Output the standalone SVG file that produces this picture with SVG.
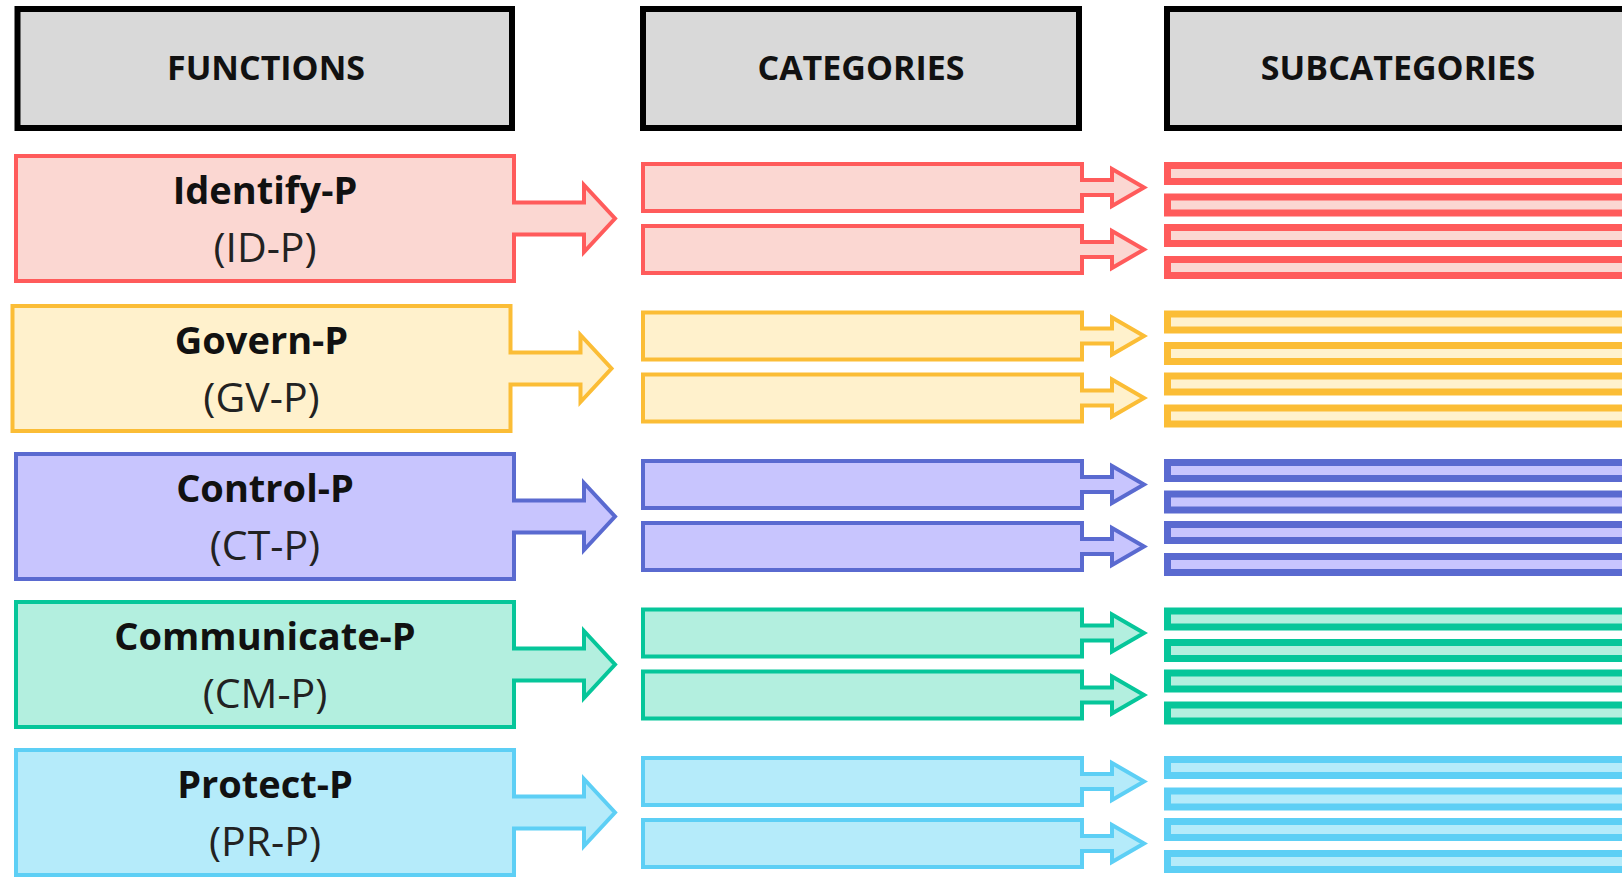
<svg xmlns="http://www.w3.org/2000/svg" width="1622" height="877" viewBox="0 0 1622 877">
<style>
.hdr{fill:#D9D9D9;stroke:#000;stroke-width:6}
text{stroke:none}
.ht{font-family:"Open Sans","Noto Sans",sans-serif;font-weight:bold;font-size:34px;fill:#111;text-anchor:middle}
.t1{font-family:"Open Sans","Noto Sans",sans-serif;font-weight:bold;font-size:38px;fill:#111;text-anchor:middle}
.t2{font-family:"Open Sans","Noto Sans",sans-serif;font-size:41px;fill:#222;text-anchor:middle}
.fa,.ca{stroke-width:4;stroke-linejoin:miter}
.sb{stroke-width:7}
.red{fill:#FBD7D2;stroke:#FF5B5B}
.gold{fill:#FFF1CC;stroke:#FBBD36}
.blue{fill:#C8C5FE;stroke:#5A6AD0}
.green{fill:#B3EFDF;stroke:#06C69A}
.lblue{fill:#B5EBFA;stroke:#5DCFF5}
</style>
<defs>
<polygon id="fshape" points="16,2 514,2 514,48.5 584,48.5 584,31 615,64.5 584,98 584,80.5 514,80.5 514,127 16,127"/>
<polygon id="cshape" points="643,2 1082,2 1082,18 1112,18 1112,7 1144,25.5 1112,44 1112,33 1082,33 1082,49 643,49"/>
</defs>

<g id="header-functions"><rect class="hdr" x="17.5" y="9" width="494.5" height="119"/><text class="ht" x="266" y="80">FUNCTIONS</text></g>
<g id="header-categories"><rect class="hdr" x="643" y="9" width="436" height="119"/><text class="ht" x="861" y="80">CATEGORIES</text></g>
<g id="header-subcategories"><rect class="hdr" x="1167" y="9" width="500" height="119"/><text class="ht" x="1398" y="80">SUBCATEGORIES</text></g>

<g id="fn-identify" class="red"><use href="#fshape" class="fa" transform="translate(0,154)"/><text class="t1" x="265" y="204">Identify-P</text><text class="t2" x="265" y="262">(ID-P)</text></g>
<g id="fn-govern" class="gold"><use href="#fshape" class="fa" transform="translate(-3.5,304)"/><text class="t1" x="261.5" y="354">Govern-P</text><text class="t2" x="261.5" y="412">(GV-P)</text></g>
<g id="fn-control" class="blue"><use href="#fshape" class="fa" transform="translate(0,452)"/><text class="t1" x="265" y="502">Control-P</text><text class="t2" x="265" y="560">(CT-P)</text></g>
<g id="fn-communicate" class="green"><use href="#fshape" class="fa" transform="translate(0,600)"/><text class="t1" x="265" y="650">Communicate-P</text><text class="t2" x="265" y="708">(CM-P)</text></g>
<g id="fn-protect" class="lblue"><use href="#fshape" class="fa" transform="translate(0,748)"/><text class="t1" x="265" y="798">Protect-P</text><text class="t2" x="265" y="856">(PR-P)</text></g>

<g id="cat-identify" class="red"><use href="#cshape" class="ca" transform="translate(0,162)"/><use href="#cshape" class="ca" transform="translate(0,224)"/></g>
<g id="cat-govern" class="gold"><use href="#cshape" class="ca" transform="translate(0,310.5)"/><use href="#cshape" class="ca" transform="translate(0,372.5)"/></g>
<g id="cat-control" class="blue"><use href="#cshape" class="ca" transform="translate(0,459)"/><use href="#cshape" class="ca" transform="translate(0,521)"/></g>
<g id="cat-communicate" class="green"><use href="#cshape" class="ca" transform="translate(0,607.5)"/><use href="#cshape" class="ca" transform="translate(0,669.5)"/></g>
<g id="cat-protect" class="lblue"><use href="#cshape" class="ca" transform="translate(0,756)"/><use href="#cshape" class="ca" transform="translate(0,818)"/></g>

<g id="sub-identify" class="red"><rect class="sb" x="1167.5" y="165.5" width="500" height="16"/><rect class="sb" x="1167.5" y="197" width="500" height="16"/><rect class="sb" x="1167.5" y="227.5" width="500" height="16"/><rect class="sb" x="1167.5" y="259.5" width="500" height="16"/></g>
<g id="sub-govern" class="gold"><rect class="sb" x="1167.5" y="314" width="500" height="16"/><rect class="sb" x="1167.5" y="345.5" width="500" height="16"/><rect class="sb" x="1167.5" y="376" width="500" height="16"/><rect class="sb" x="1167.5" y="408" width="500" height="16"/></g>
<g id="sub-control" class="blue"><rect class="sb" x="1167.5" y="462.5" width="500" height="16"/><rect class="sb" x="1167.5" y="494" width="500" height="16"/><rect class="sb" x="1167.5" y="524.5" width="500" height="16"/><rect class="sb" x="1167.5" y="556.5" width="500" height="16"/></g>
<g id="sub-communicate" class="green"><rect class="sb" x="1167.5" y="611" width="500" height="16"/><rect class="sb" x="1167.5" y="642.5" width="500" height="16"/><rect class="sb" x="1167.5" y="673" width="500" height="16"/><rect class="sb" x="1167.5" y="705" width="500" height="16"/></g>
<g id="sub-protect" class="lblue"><rect class="sb" x="1167.5" y="759.5" width="500" height="16"/><rect class="sb" x="1167.5" y="791" width="500" height="16"/><rect class="sb" x="1167.5" y="821.5" width="500" height="16"/><rect class="sb" x="1167.5" y="853.5" width="500" height="16"/></g>
</svg>
